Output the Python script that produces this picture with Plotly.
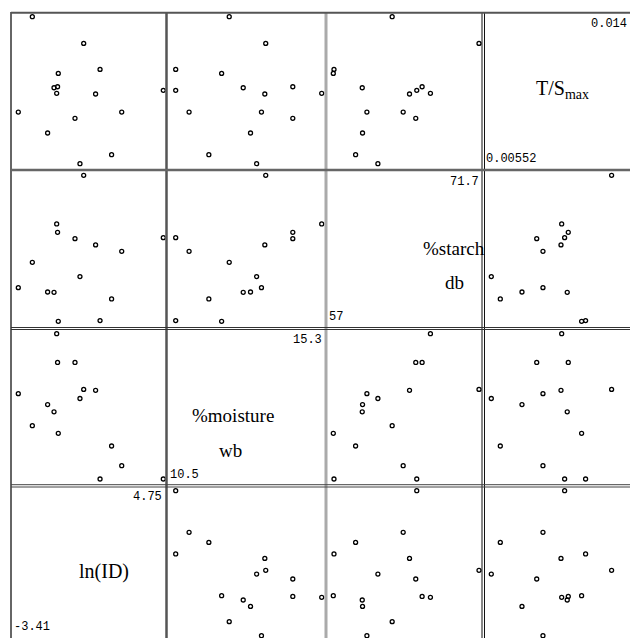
import plotly.graph_objects as go

# ---- data (15 observations) ----
ln_id = [-2.62, 0.27, -1.16, 1.19, -1.40, -1.20, -1.25, 0.94, 4.75, -3.41, 2.41, -0.22, -1.76, 1.84, 0.06]
moisture_wb = [12.26, 13.46, 12.01, 10.50, 12.72, 14.35, 15.30, 13.43, 10.50, 13.32, 10.94, 14.35, 12.96, 11.59, 13.16]
starch_db = [62.94, 71.70, 57.00, 57.07, 59.92, 65.96, 66.80, 64.69, 65.42, 60.39, 64.05, 65.32, 59.95, 59.25, 61.50]
ts_max = [0.01400, 0.01246, 0.01073, 0.01096, 0.00990, 0.00996, 0.00958, 0.00954, 0.00975, 0.00850, 0.00850, 0.00814, 0.00729, 0.00604, 0.00552]

var_lines = [["ln(ID)"], ["%moisture", "wb"], ["%starch", "db"], ["T/S<sub>max</sub>"]]
min_labels = ["-3.41", "10.5", "57", "0.00552"]
max_labels = ["4.75", "15.3", "71.7", "0.014"]

columns = [ln_id, moisture_wb, starch_db, ts_max]

W, H = 630, 638
def px(x):
    return x / W
def py(y):
    return 1 - y / H

# panel geometry in pixels
colL = [11, 167.3, 326, 483.3]
colR = [165.7, 325.7, 482.7, 630]
rowT = [12.7, 171, 329, 486.3]
rowB = [169, 327, 485, 638]
# pixel positions of data min / max along x, per column variable
xpmin = [18.3, 175.7, 333.3, 491.3]
xpmax = [163.3, 321.7, 479.0, 638.3]
# pixel positions of data min (bottom) / max (top) along y, per row (row var = 3-r)
ypmin = [163.7, 321.3, 479.0, 635.7]
ypmax = [16.7, 175.3, 333.7, 490.7]

fig = go.Figure()
layout = {}
n = 0
for r in range(4):
    yv = 3 - r
    for c in range(4):
        n += 1
        xa = "xaxis" if n == 1 else f"xaxis{n}"
        ya = "yaxis" if n == 1 else f"yaxis{n}"
        xr = "x" if n == 1 else f"x{n}"
        yr = "y" if n == 1 else f"y{n}"
        vx = columns[c]
        vy = columns[yv]
        xmin, xmax = min(vx), max(vx)
        sx = (xmax - xmin) / (xpmax[c] - xpmin[c])
        xrange = [xmin + (colL[c] - xpmin[c]) * sx, xmin + (colR[c] - xpmin[c]) * sx]
        ymin, ymax = min(vy), max(vy)
        sy = (ymax - ymin) / (ypmin[r] - ypmax[r])
        yrange = [ymin - (rowB[r] - ypmin[r]) * sy, ymax + (ypmax[r] - rowT[r]) * sy]
        common = dict(showgrid=False, zeroline=False, showticklabels=False, ticks="",
                      showline=False, fixedrange=True)
        layout[xa] = dict(domain=[px(colL[c]), px(colR[c])], range=xrange, anchor=yr, **common)
        layout[ya] = dict(domain=[py(rowB[r]), py(rowT[r])], range=yrange, anchor=xr, **common)
        if r + c == 3:
            # diagonal panel: variable name and min/max
            continue
        fig.add_trace(go.Scatter(
            x=vx, y=vy, mode="markers", xaxis=xr, yaxis=yr,
            marker=dict(symbol="circle-open", size=4, color="black", line=dict(width=1.3, color="black")),
            showlegend=False, hoverinfo="skip"))

annotations = []
name_pos = [[(104, 571)], [(233, 415), (231, 450)], [(454, 248), (454, 283)], [(562, 89)]]
for k in range(4):
    for txt, (x0, y0) in zip(var_lines[k], name_pos[k]):
        annotations.append(dict(text=txt, x=px(x0), y=py(y0), xref="paper", yref="paper",
                                showarrow=False, xanchor="center", yanchor="middle",
                                font=dict(family="Liberation Serif", size=19 if k in (1, 2) else 20,
                                          color="black")))
# min/max labels for diagonal panels (col k, row 3-k)
for k in range(4):
    r = 3 - k
    annotations.append(dict(text=max_labels[k], x=px(colR[k] - 2 if k < 3 else 629), y=py(rowT[r] + 2),
                            xref="paper", yref="paper", showarrow=False, xanchor="right", yanchor="top",
                            font=dict(family="Liberation Mono", size=12, color="black")))
    annotations.append(dict(text=min_labels[k], x=px(colL[k] + 1), y=py(min(rowB[r], 637) - 1),
                            xref="paper", yref="paper", showarrow=False, xanchor="left", yanchor="bottom",
                            font=dict(family="Liberation Mono", size=12, color="black")))

shapes = []
def vline(x, color, width):
    shapes.append(dict(type="line", xref="paper", yref="paper", x0=px(x), x1=px(x),
                       y0=py(12), y1=py(H), line=dict(color=color, width=width)))
def hline(y, color, width):
    shapes.append(dict(type="line", xref="paper", yref="paper", x0=px(11), x1=px(W),
                       y0=py(y), y1=py(y), line=dict(color=color, width=width)))
vline(11, "#333333", 1.5)
vline(166.5, "#555555", 2.5)
vline(326, "#aaaaaa", 3)
vline(482, "#111111", 1)
vline(484.5, "#111111", 1)
hline(12.7, "#555555", 2)
hline(170, "#666666", 2.5)
hline(327.5, "#333333", 1)
hline(329.5, "#333333", 1)
hline(484.7, "#444444", 1)
hline(487, "#444444", 1)

fig.update_layout(width=W, height=H, margin=dict(l=0, r=0, t=0, b=0),
                  paper_bgcolor="white", plot_bgcolor="white",
                  annotations=annotations, shapes=shapes, **layout)
fig.write_html("out.html", config={"displayModeBar": False},
               post_script="document.body.style.margin='0';document.body.style.overflow='hidden';")
